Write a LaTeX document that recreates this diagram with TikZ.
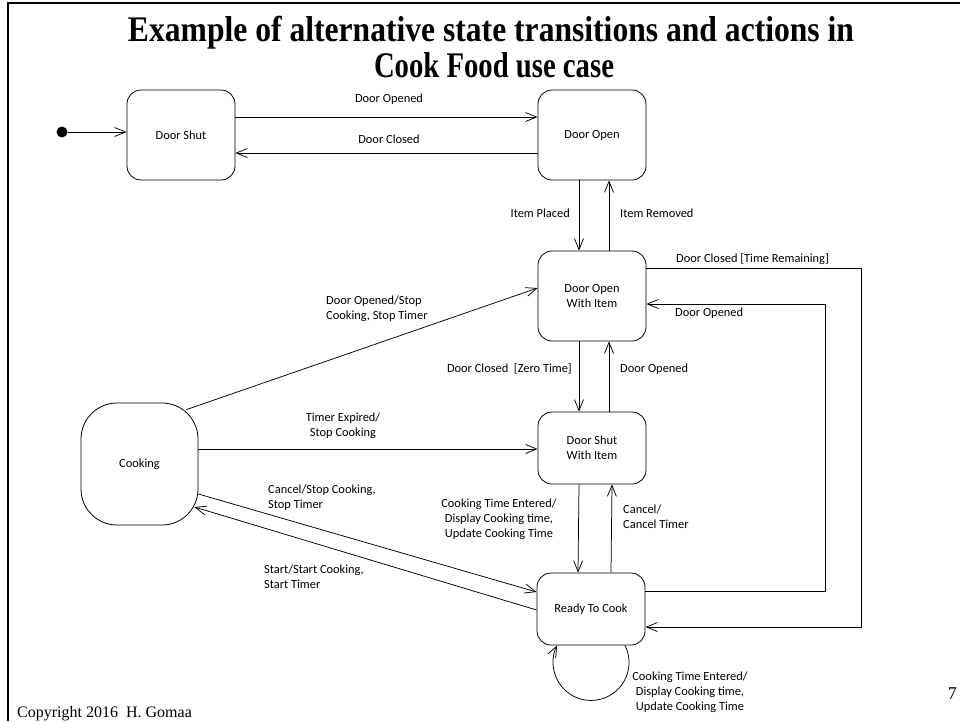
\documentclass[tikz,border=0pt]{standalone}
\usepackage{fontspec}
\setmainfont{Carlito}
\newfontfamily\serifface{Liberation Serif}
\usetikzlibrary{arrows.meta}
\newcommand\lblfont{\fontsize{12.4}{15}\selectfont}
\begin{document}
\begin{tikzpicture}[x=1pt,y=-1pt,
  state/.style={draw, line width=0.8pt, rounded corners=14pt,
    minimum width=108pt, minimum height=90pt, inner sep=0pt,
    align=center, font=\lblfont},
  shortstate/.style={state, minimum height=72pt},
  trans/.style={draw, line width=0.75pt,
    -{Straight Barb[length=11pt,width=9pt,line width=0.75pt]}},
  lbl/.style={font=\lblfont, inner sep=0pt, align=left},
  clbl/.style={font=\lblfont, inner sep=0pt, align=center},
  title/.style={font=\serifface\bfseries\fontsize{36}{38}\selectfont,
    inner sep=0pt, anchor=base}
]
\useasboundingbox (0,0) rectangle (960,721);

% slide frame
\draw[line width=2.5pt] (8,721) -- (8,3) -- (960,3);

% title
\node[title] (t1) at (491,41)
  {\resizebox{726pt}{\height}{Example of alternative state transitions and actions in}};
\node[title] (t2) at (494,77)
  {\resizebox{240pt}{\height}{Cook Food use case}};

% states
\node[circle, fill=black, minimum size=11pt, inner sep=0pt] (init) at (62,132) {};
\node[state] (ds)   at (181,135) {Door Shut};
\node[state] (do)   at (592,135) {Door Open};
\node[state] (dowi) at (592,296) {Door Open\\With Item};
\node[shortstate] (dswi) at (592,448) {Door Shut\\With Item};
\node[shortstate] (rtc)  at (591,609) {Ready To Cook};
\node[state, rounded corners=36pt, minimum width=117pt, minimum height=122pt]
  (cook) at (139.5,464) {Cooking};

% transitions
\draw[trans] (init) -- (init -| ds.west);
\draw[trans] ([yshift=18pt]ds.east) -- ([yshift=18pt]do.west);
\draw[trans] ([yshift=-18pt]do.west) -- ([yshift=-18pt]ds.east);

\draw[trans] ([xshift=-13pt]do.south) -- ([xshift=-13pt]dowi.north);
\draw[trans] ([xshift=17pt]dowi.north) -- ([xshift=17pt]do.south);

\draw[trans] ([xshift=-13pt]dowi.south) -- ([xshift=-13pt]dswi.north);
\draw[trans] ([xshift=17pt]dswi.north) -- ([xshift=17pt]dowi.south);

\draw[trans] ([xshift=-13pt]dswi.south) -- ([xshift=-13pt]rtc.north);
\draw[trans] ([xshift=20pt]rtc.north) -- ([xshift=20pt]dswi.south);

\draw[trans] ([yshift=28pt]dowi.east) -- ++(215,0) |- ([yshift=-18pt]rtc.east);
\draw[trans] ([yshift=18pt]rtc.east) -- ++(180,0) |- ([yshift=-8pt]dowi.east);

\draw[trans] ([xshift=-12pt,yshift=-7pt]cook.north east) -- ([yshift=8pt]dowi.west);
\draw[trans] ([yshift=15pt]cook.east) -- ([yshift=15pt]cook.east -| dswi.west);
\draw[trans] ([yshift=-30pt]cook.east) -- ([yshift=17pt]rtc.west);
\draw[trans] ([yshift=-1pt]rtc.west) -- ([xshift=-4pt,yshift=-43pt]cook.east);

\draw[trans] ([xshift=34pt]rtc.south) arc[start angle=26.6, end angle=-206.6, radius=38pt];

% transition labels
\node[clbl] (l1) at (389,99) {Door Opened};
\node[clbl] (l2) at (389,139) {Door Closed};
\node[lbl, anchor=east] (l3) at (570,213) {Item Placed};
\node[lbl, anchor=west] (l4) at (620,213) {Item Removed};
\node[lbl, anchor=west] (l5) at (676,259) {Door Closed [Time Remaining]};
\node[lbl, anchor=west] (l6) at (675,313) {Door Opened};
\node[lbl, anchor=west] (l7) at (326,308.5) {Door Opened/Stop\\Cooking, Stop Timer};
\node[lbl, anchor=east] (l8) at (572,369) {Door Closed\ \ [Zero Time]};
\node[lbl, anchor=west] (l9) at (620,369) {Door Opened};
\node[clbl] (l10) at (343,425.5) {Timer Expired/\\Stop Cooking};
\node[lbl, anchor=west] (l11) at (268,498) {Cancel/Stop Cooking,\\Stop Timer};
\node[clbl] (l12) at (499,519) {Cooking Time Entered/\\Display Cooking time,\\Update Cooking Time};
\node[lbl, anchor=west] (l13) at (623,516.5) {Cancel/\\Cancel Timer};
\node[lbl, anchor=west] (l14) at (264,576.5) {Start/Start Cooking,\\Start Timer};
\node[clbl] (l15) at (690,692) {Cooking Time Entered/\\Display Cooking time,\\Update Cooking Time};

% footer
\node[font=\serifface\fontsize{16}{18}\selectfont, anchor=base west, inner sep=0pt]
  (copy) at (17,717) {Copyright 2016\ \ H. Gomaa};
\node[font=\serifface\fontsize{18}{20}\selectfont, anchor=base east, inner sep=0pt]
  (pg) at (957,699) {7};
\end{tikzpicture}
\end{document}
